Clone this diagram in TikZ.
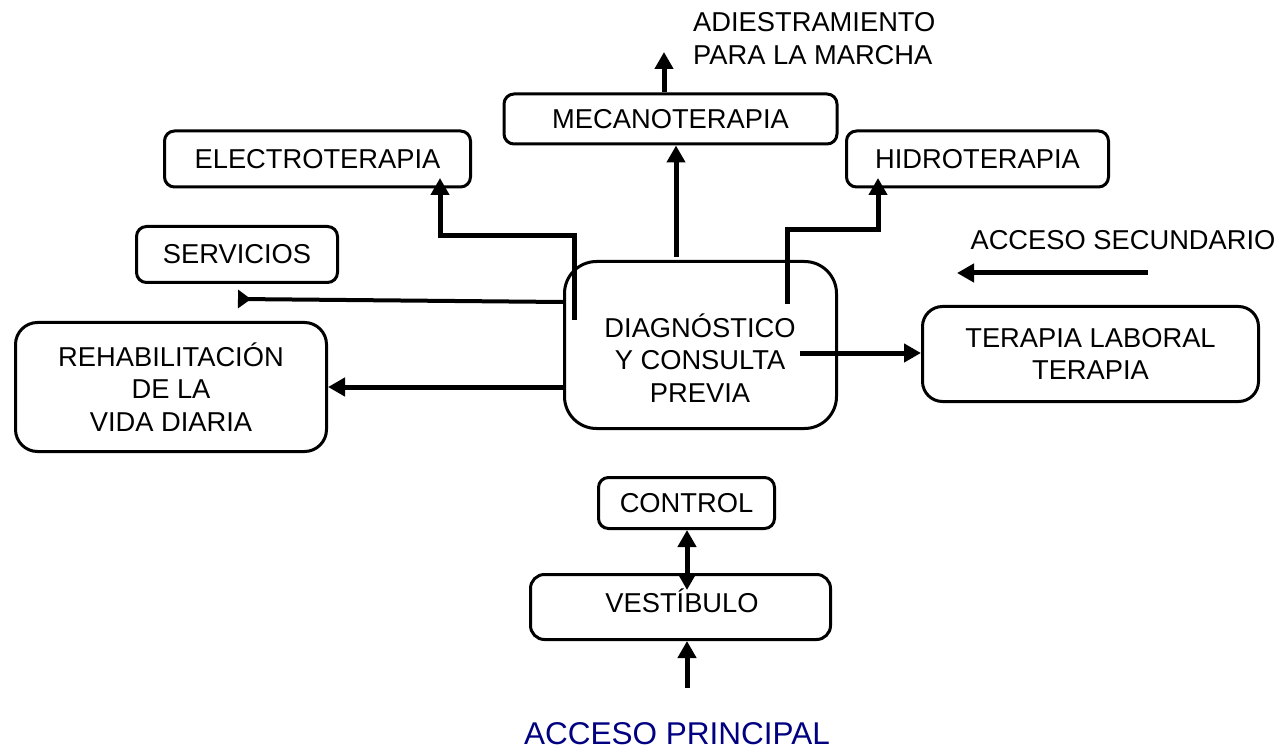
\documentclass[tikz,border=0pt]{standalone}
\usepackage{fontspec}
\setmainfont{Liberation Sans}
\usetikzlibrary{arrows.meta}
\definecolor{navyblue}{RGB}{0,0,128}
\begin{document}
\begin{tikzpicture}[x=1pt,y=-1pt,
  box/.style={draw, line width=3pt, rounded corners=10pt, inner sep=0pt, align=center,
    font=\fontsize{27.3}{32.5}\selectfont},
  txt/.style={inner sep=0pt, align=center, font=\fontsize{27.3}{32.5}\selectfont},
  arr/.style={line width=5pt, -{Triangle[length=17pt,width=18pt]}},
  darr/.style={line width=5pt, {Triangle[length=17pt,width=18pt]}-{Triangle[length=17pt,width=18pt]}}
]
\useasboundingbox (0,0) rectangle (1285,751);

% boxes
\node[box, minimum width=333pt, minimum height=50pt] (mecano) at (670.5,119) {MECANOTERAPIA};
\node[box, minimum width=306pt, minimum height=56pt] (electro) at (317.5,159) {ELECTROTERAPIA};
\node[box, minimum width=262pt, minimum height=56pt] (hidro) at (977.5,159) {HIDROTERAPIA};
\node[box, minimum width=201pt, minimum height=56pt] (serv) at (237,254.5) {SERVICIOS};
\node[box, rounded corners=22pt, minimum width=311pt, minimum height=129pt] (rehab) at (171,387) {REHABILITACIÓN\\DE LA\\VIDA DIARIA};
\node[box, rounded corners=32pt, minimum width=272pt, minimum height=167pt] (diag) at (700.5,345) {};
\node[txt] (diagtxt) at (700,358) {DIAGNÓSTICO\\Y CONSULTA\\PREVIA};
\node[box, rounded corners=20pt, minimum width=336pt, minimum height=95pt] (lab) at (1090.5,354) {TERAPIA LABORAL\\TERAPIA};
\node[box, minimum width=176pt, minimum height=51pt] (control) at (686.5,503) {CONTROL};
\node[box, rounded corners=14pt, minimum width=300pt, minimum height=65pt] (vest) at (680.5,607) {};
\node[txt] (vesttxt) at (682,601) {VESTÍBULO};

% free texts
\node[txt, anchor=west, align=left] (adies) at (693,38.5) {ADIESTRAMIENTO\\PARA LA MARCHA};
\node[txt] (accsec) at (1123,240) {ACCESO SECUNDARIO};
\node[txt, text=navyblue, font=\fontsize{31.5}{36}\selectfont] (accpri) at (677,734) {ACCESO PRINCIPAL};

% coordinates
\coordinate (adiTip) at (664,52);
\coordinate (mS) at (676,257);
\coordinate (eS) at (574,320);
\coordinate (eTurn) at (440,236);
\coordinate (eTip) at (440,178);
\coordinate (hS) at (787,304);
\coordinate (hTurn) at (878,230);
\coordinate (hTip) at (878,178);
\coordinate (sS) at (563,302);
\coordinate (sE) at (238,299);
\coordinate (rS) at (563,387);
\coordinate (lS) at (800,353);
\coordinate (asS) at (1148,273);
\coordinate (asE) at (957,273);
\coordinate (cvB) at (687,590);
\coordinate (apS) at (687,688);

% connectors
\draw[arr] (mecano.north -| adiTip) -- (adiTip);
\draw[arr] (mS) -- (mecano.south -| mS);
\draw[arr] (eS) |- (eTurn) -- (eTip);
\draw[arr] (hS) |- (hTurn) -- (hTip);
\draw[line width=4pt, {Triangle[reversed,length=13pt,width=18pt]}-] (sE) -- (sS);
\draw[arr] (rS) -- (rehab.east |- rS);
\draw[arr] (lS) -- (lab.west |- lS);
\draw[arr] (asS) -- (asE);
\draw[darr] (cvB) -- (control.south -| cvB);
\draw[arr] (apS) -- (vest.south -| apS);
\end{tikzpicture}
\end{document}
